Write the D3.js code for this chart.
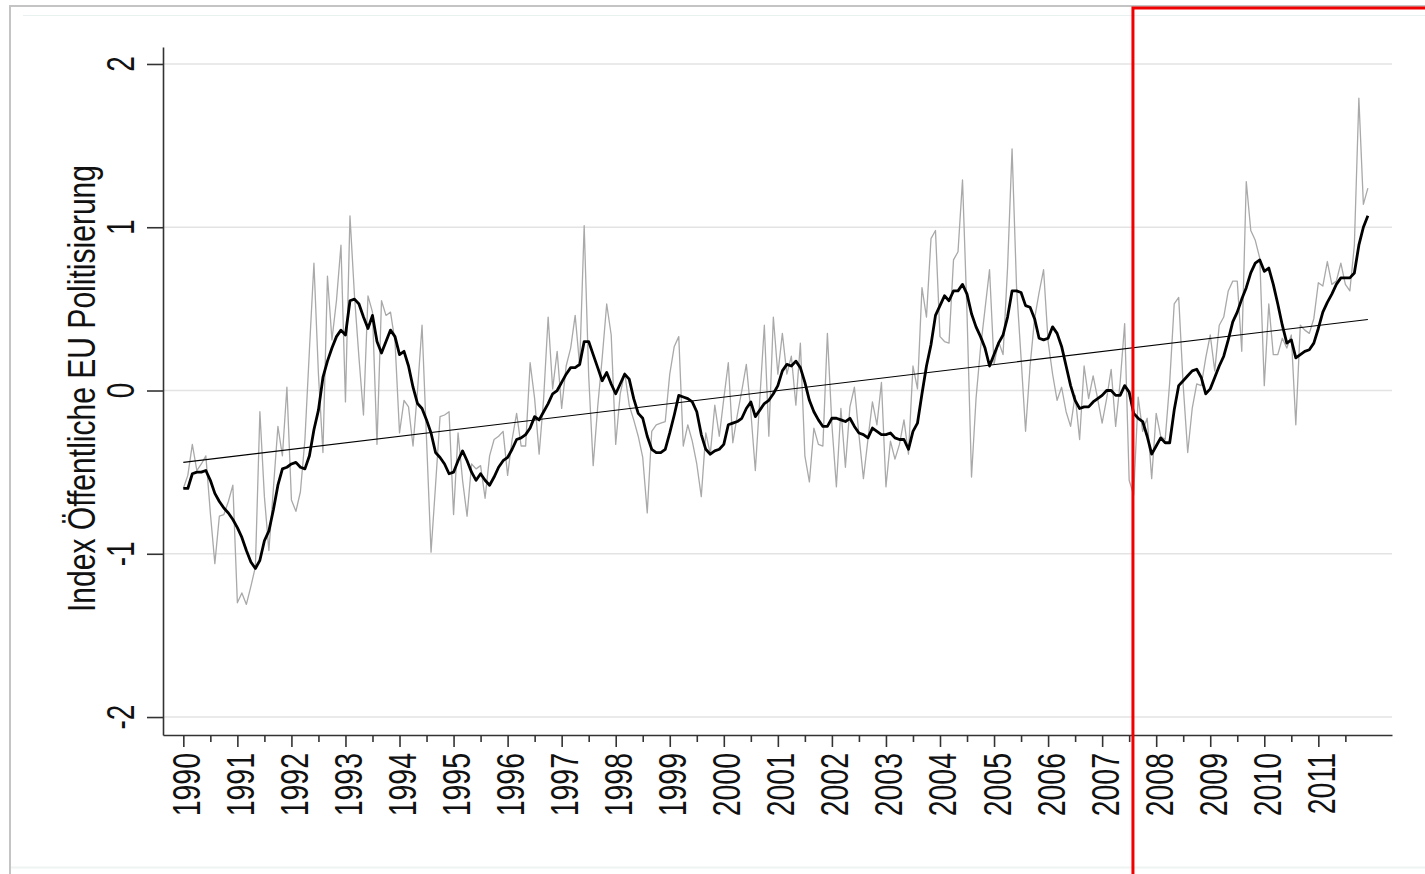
<!DOCTYPE html>
<html>
<head>
<meta charset="utf-8">
<script src="https://cdn.jsdelivr.net/npm/d3@7"></script>
<style>
  html, body { margin: 0; padding: 0; background: #fff; }
  svg { display: block; }
  text { font-family: "Liberation Sans", Arial, sans-serif; fill: #111; }
</style>
</head>
<body>
<svg id="chart" width="1425" height="874"></svg>
<script>
// monatliche Werte, Jan 1990 bis Dez 2011
const startYear = 1990;
const years = d3.range(1990, 2012);
const halfYears = d3.range(1990.5, 2012, 1);
const yTicks = [-2, -1, 0, 1, 2];

// Index (graue Linie, Rohwerte)
const indexRaw = [
  -0.60,-0.52,-0.33,-0.49,-0.45,-0.40,-0.75,-1.06,-0.77,-0.76,
  -0.68,-0.58,-1.30,-1.24,-1.31,-1.20,-1.08,-0.13,-0.65,-0.98,
  -0.60,-0.22,-0.40,0.02,-0.67,-0.74,-0.62,-0.30,0.25,0.78,
  0.10,-0.38,0.70,0.31,0.55,0.89,-0.07,1.07,0.58,0.20,
  -0.15,0.58,0.48,-0.33,0.55,0.46,0.48,0.30,-0.26,-0.06,
  -0.10,-0.34,0.00,0.40,-0.30,-0.99,-0.58,-0.16,-0.15,-0.13,
  -0.76,-0.26,-0.55,-0.77,-0.45,
  -0.48,-0.46,-0.66,-0.40,-0.30,-0.28,-0.25,-0.52,-0.30,-0.14,
  -0.34,-0.34,0.17,-0.05,-0.39,-0.05,0.45,0.01,0.24,-0.11,
  0.15,0.26,0.46,0.15,1.01,0.09,-0.46,-0.10,0.20,0.53,
  0.34,-0.33,-0.02,0.11,-0.09,-0.18,-0.28,-0.41,-0.75,-0.25,
  -0.21,-0.20,-0.19,0.10,0.27,0.33,-0.34,-0.21,-0.31,-0.45,
  -0.65,-0.26,-0.39,-0.09,-0.28,-0.05,0.17,-0.32,-0.15,0.00,
  0.16,-0.13,-0.49,-0.05,0.40,-0.28,
  0.45,0.10,0.35,0.10,0.21,-0.09,0.29,-0.40,-0.56,-0.23,
  -0.33,-0.34,0.35,-0.21,-0.59,-0.11,-0.47,-0.10,0.02,-0.27,
  -0.54,-0.30,-0.07,-0.21,0.05,-0.59,-0.31,-0.42,-0.33,-0.18,
  -0.39,0.15,0.01,0.63,0.45,0.93,0.98,0.33,0.30,0.29,
  0.80,0.85,1.29,0.47,-0.53,-0.05,0.26,0.50,0.74,0.16,
  0.30,0.22,0.75,1.48,0.63,0.20,-0.25,0.15,0.44,0.60,
  0.74,0.30,0.10,-0.06,0.02,-0.13,-0.22,
  -0.03,-0.30,0.15,-0.05,0.09,-0.05,-0.20,-0.05,0.13,-0.22,
  0.05,0.41,-0.55,-0.64,-0.04,-0.25,-0.17,-0.54,-0.14,-0.28,
  -0.30,0.05,0.53,0.57,0.03,-0.38,-0.11,0.04,0.03,0.20,
  0.34,0.12,0.40,0.45,0.61,0.67,0.67,0.24,1.28,0.98,
  0.92,0.81,0.03,0.53,0.22,0.22,0.32,0.26,0.34,-0.21,
  0.40,0.37,0.35,0.44,0.66,0.64,0.79,0.65,0.67,0.78,
  0.65,0.61,0.89,1.79,1.14,1.24
];

// geglaetteter Index (schwarze Linie)
const indexSmooth = [
  -0.60,-0.60,-0.51,-0.50,-0.50,-0.49,-0.55,-0.63,-0.68,-0.72,
  -0.75,-0.79,-0.84,-0.90,-0.98,-1.05,-1.09,-1.04,-0.92,-0.86,
  -0.73,-0.58,-0.48,-0.47,-0.45,-0.44,-0.47,-0.48,-0.40,-0.24,
  -0.12,0.08,0.18,0.26,0.33,0.37,0.34,0.55,0.56,0.53,
  0.45,0.38,0.46,0.30,0.23,0.30,0.37,0.33,0.22,0.24,
  0.15,0.02,-0.08,-0.11,-0.18,-0.26,-0.38,-0.41,-0.45,-0.51,
  -0.50,-0.43,-0.37,-0.43,-0.50,
  -0.55,-0.51,-0.55,-0.58,-0.53,-0.47,-0.43,-0.41,-0.36,-0.30,
  -0.29,-0.27,-0.23,-0.16,-0.18,-0.13,-0.08,-0.02,0.00,0.05,
  0.10,0.14,0.14,0.16,0.30,0.30,0.22,0.14,0.06,0.11,
  0.04,-0.02,0.04,0.10,0.07,-0.05,-0.14,-0.17,-0.28,-0.36,
  -0.38,-0.38,-0.36,-0.26,-0.15,-0.03,-0.04,-0.05,-0.07,-0.13,
  -0.27,-0.36,-0.39,-0.37,-0.36,-0.33,-0.21,-0.20,-0.19,-0.17,
  -0.11,-0.07,-0.16,-0.12,-0.08,-0.06,
  -0.02,0.03,0.12,0.16,0.15,0.18,0.14,0.05,-0.06,-0.13,
  -0.18,-0.22,-0.22,-0.17,-0.17,-0.18,-0.19,-0.17,-0.22,-0.26,
  -0.27,-0.29,-0.23,-0.25,-0.27,-0.27,-0.26,-0.29,-0.30,-0.30,
  -0.36,-0.25,-0.20,-0.02,0.15,0.28,0.46,0.52,0.58,0.55,
  0.61,0.61,0.65,0.59,0.47,0.39,0.33,0.26,0.15,0.22,
  0.29,0.34,0.45,0.61,0.61,0.60,0.52,0.51,0.44,0.32,
  0.31,0.32,0.39,0.35,0.27,0.15,0.03,
  -0.06,-0.11,-0.10,-0.10,-0.07,-0.05,-0.03,0.00,0.00,-0.03,
  -0.03,0.03,-0.01,-0.14,-0.17,-0.19,-0.28,-0.39,-0.34,-0.29,
  -0.32,-0.32,-0.12,0.03,0.06,0.09,0.12,0.13,0.08,-0.02,
  0.01,0.08,0.15,0.21,0.31,0.42,0.48,0.56,0.63,0.72,
  0.78,0.80,0.73,0.75,0.65,0.53,0.40,0.29,0.31,0.20,
  0.22,0.24,0.25,0.29,0.38,0.48,0.54,0.59,0.65,0.69,
  0.69,0.69,0.72,0.89,1.00,1.07
];

// linearer Trend: Wert am Anfang und am Ende der Reihe
const trendEnds = [-0.44, 0.435];
// Markierung (rote Box) ab Mitte 2007
const markStart = 2007.57;

const svg = d3.select('#chart');

// Rahmen des Dokuments
svg.append('rect')
    .attr('x', 10).attr('y', 6)
    .attr('width', 1500).attr('height', 1000)
    .attr('fill', 'none')
    .attr('stroke', '#c4c4c4')
    .attr('stroke-width', 2);
svg.append('line')
    .attr('x1', 23).attr('x2', 1425).attr('y1', 15.5).attr('y2', 15.5)
    .attr('stroke', '#e8f1ef').attr('stroke-width', 1);
svg.append('line')
    .attr('x1', 11).attr('x2', 1425).attr('y1', 867.5).attr('y2', 867.5)
    .attr('stroke', '#edf4f2').attr('stroke-width', 2);

let x = d3.scaleLinear().domain([1989.624, 2012.363]).range([163, 1392]);
let y = d3.scaleLinear().domain([-2.110, 2.104]).range([735, 47]);

let toDate = i => startYear + i / 12;

// Gitterlinien
svg.append('g')
    .selectAll('line')
    .data(yTicks)
    .join('line')
    .attr('x1', 164).attr('x2', 1392)
    .attr('y1', d => y(d)).attr('y2', d => y(d))
    .attr('stroke', '#e3e3e3')
    .attr('stroke-width', 1.5);

// y-Achse
let yAxis = svg.append('g')
    .attr('transform', 'translate(163,0)')
    .call(d3.axisLeft(y).tickValues(yTicks).tickSize(16).tickSizeOuter(0).tickFormat(''));
yAxis.select('.domain').attr('stroke', '#333').attr('stroke-width', 1.6);
yAxis.selectAll('.tick line').attr('stroke', '#333').attr('stroke-width', 1.6);

svg.append('g')
    .selectAll('text')
    .data(yTicks)
    .join('text')
    .attr('transform', d => `translate(134,${y(d)}) rotate(-90) scale(1,1.36)`)
    .attr('text-anchor', 'middle')
    .style('font-size', '28px')
    .text(d => d);

// x-Achse
let xAxis = svg.append('g')
    .attr('transform', 'translate(0,735)')
    .call(d3.axisBottom(x).tickValues(years).tickSize(12).tickSizeOuter(0).tickFormat(''));
xAxis.select('.domain').attr('stroke', '#333').attr('stroke-width', 1.6);
xAxis.selectAll('.tick line').attr('stroke', '#333').attr('stroke-width', 1.6);

let xMinor = svg.append('g')
    .attr('transform', 'translate(0,735)')
    .call(d3.axisBottom(x).tickValues(halfYears).tickSize(7).tickFormat(''));
xMinor.select('.domain').remove();
xMinor.selectAll('.tick line').attr('stroke', '#333').attr('stroke-width', 1.6);

svg.append('g')
    .selectAll('text')
    .data(years)
    .join('text')
    .attr('transform', d => `translate(${x(d) + 16.5},753) rotate(-90) scale(1,1.36)`)
    .attr('text-anchor', 'end')
    .style('font-size', '28.5px')
    .text(d => d);

// Achsentitel
svg.append('text')
    .attr('transform', 'translate(95,388.5) rotate(-90) scale(1,1.36)')
    .attr('text-anchor', 'middle')
    .attr('textLength', 447)
    .attr('lengthAdjust', 'spacingAndGlyphs')
    .style('font-size', '29px')
    .text('Index Öffentliche EU Politisierung');

// Linien
let line = d3.line()
    .x((d, i) => x(toDate(i)))
    .y(d => y(d));

svg.append('path')
    .datum(indexRaw)
    .attr('d', line)
    .attr('fill', 'none')
    .attr('stroke', '#a9a9a9')
    .attr('stroke-width', 1.3)
    .attr('stroke-linejoin', 'round');

svg.append('path')
    .datum(indexSmooth)
    .attr('d', line)
    .attr('fill', 'none')
    .attr('stroke', '#000')
    .attr('stroke-width', 2.8)
    .attr('stroke-linejoin', 'round');

svg.append('line')
    .attr('x1', x(toDate(0))).attr('y1', y(trendEnds[0]))
    .attr('x2', x(toDate(indexRaw.length - 1))).attr('y2', y(trendEnds[1]))
    .attr('stroke', '#000')
    .attr('stroke-width', 1.1);

// rote Box
svg.append('rect')
    .attr('x', x(markStart)).attr('y', 8)
    .attr('width', 400).attr('height', 1000)
    .attr('fill', 'none')
    .attr('stroke', '#f00000')
    .attr('stroke-width', 3);
</script>
</body>
</html>
